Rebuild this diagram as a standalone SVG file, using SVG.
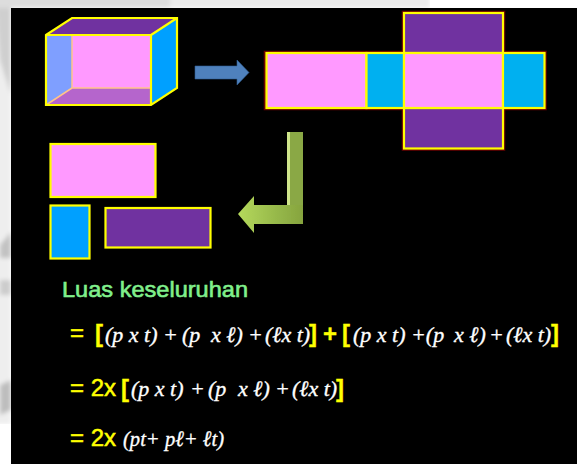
<svg xmlns="http://www.w3.org/2000/svg" width="577" height="464" viewBox="0 0 577 464">
<style>
.e{stroke:#ffff00;stroke-width:2.200;stroke-linejoin:miter}
.p{fill:#ff99ff}.b{fill:#00b0f0}.c{fill:#00a0ff}.v{fill:#7030a0}
.g{font-family:"Liberation Sans",Arial,sans-serif;fill:#ffff00;stroke:#ffff00;stroke-width:.5;font-size:24px}
.k{font-weight:bold;stroke-width:.3}
.m{font-family:"Liberation Serif","Times New Roman",serif;font-style:italic;fill:#fff;stroke:#fff;stroke-width:.35;font-size:22px}
</style>
<defs>
<linearGradient id="ga" gradientUnits="userSpaceOnUse" x1="238" y1="0" x2="303" y2="0"><stop offset="0" stop-color="#b5d95c"/><stop offset=".6" stop-color="#96b84a"/><stop offset="1" stop-color="#86a43e"/></linearGradient>
<filter id="s" x="-5%" y="-5%" width="110%" height="110%"><feGaussianBlur stdDeviation=".4"/></filter>
<filter id="bg" x="-20%" y="-5%" width="140%" height="110%"><feGaussianBlur stdDeviation="2"/></filter>
</defs>
<rect width="577" height="464" fill="#fff"/>
<g filter="url(#bg)">
<path d="M-5 -5H11V424H-5Z" fill="#eeeeee"/>
<path d="M-5 -5H11V95L0 60Z" fill="#cfcfcf"/>
<path d="M0 245L11 232V258H0Z" fill="#c2c2c2"/>
<path d="M0 280H11V295H0Z" fill="#cccccc"/>
<path d="M0 385L11 380V410L0 415Z" fill="#bdbdbd"/>
<path d="M-5 -5H170V8H-5Z" fill="#dddddd"/>
<path d="M170 -5H430V8H170Z" fill="#ececec"/>
</g>
<rect x="0" y="424" width="11" height="40" fill="#fff"/>
<rect x="430" y="0" width="147" height="8" fill="#fff"/>
<rect x="11" y="8" width="566" height="456" fill="#000"/>
<g id="box" filter="url(#s)">
<path d="M46 35H72V88L46 105Z" fill="#7f9fff"/>
<path d="M72 35H151V88H72Z" class="p"/>
<path d="M46 105L72 88H151V105Z" fill="#b565cc"/>
<path d="M46 35L72 18H177L151 35Z" class="v"/>
<path d="M151 35L177 18V88L151 105Z" class="c"/>
<path d="M72 35V88H151M72 88L46 105" fill="none" stroke="#ffc48a" stroke-width="1.500"/>
<path d="M46 35L72 18H177V88L151 105H46ZM46 35H151V105M151 35L177 18" fill="none" class="e"/>
</g>
<g id="net" filter="url(#s)">
<path d="M404 13H503V53H544.500V108H503V148.500H404V108H266V53H404Z" fill="none" stroke="#6a0000" stroke-width="4.500"/>
<rect x="404" y="13" width="99" height="40" class="v e"/>
<rect x="404" y="108" width="99" height="40.500" class="v e"/>
<rect x="266.500" y="53" width="100" height="55" class="p e"/>
<rect x="366.500" y="53" width="37.500" height="55" class="b e"/>
<rect x="404" y="53" width="99" height="55" class="p e"/>
<rect x="503" y="53" width="41.500" height="55" class="b e"/>
</g>
<g id="parts" filter="url(#s)">
<rect x="50.500" y="144" width="105" height="53" class="p e"/>
<rect x="50.500" y="205.500" width="39" height="53" class="c e"/>
<rect x="105.500" y="208" width="105" height="39.500" class="v e"/>
</g>
<g id="connectors" filter="url(#s)">
<path d="M195 66H237V60L249 72.500 237 85V79H195Z" fill="#4f81bd" stroke="#2f5f96" stroke-width=".6"/>
<path d="M303 132V224H254V233L238 214 254 196V205H287V132Z" fill="url(#ga)"/>
<path d="M287 132H303V205H287Z" fill="#8aa845"/>
<path d="M287 132H290V205H287Z" fill="#cfe58a"/>
</g>
<g id="formula">
<text x="62" y="297" font-family="Liberation Sans, Arial, sans-serif" font-size="22.500" fill="#80f08c" stroke="#80f08c" stroke-width=".6" textLength="186" lengthAdjust="spacingAndGlyphs">Luas keseluruhan</text>
<text x="70" y="341" class="g">=</text>
<text x="95" y="342" class="g k">[</text>
<text y="342" class="m" xml:space="preserve"><tspan x="105">(p x t)</tspan><tspan x="163">+</tspan><tspan x="182">(p</tspan><tspan x="211">x ℓ)</tspan><tspan x="248">+</tspan><tspan x="265">(ℓx t)</tspan></text>
<text x="309" y="342" class="g k">]</text>
<text x="323" y="342" class="g k">+</text>
<text x="342" y="342" class="g k">[</text>
<text y="342" class="m" xml:space="preserve"><tspan x="353">(p x t)</tspan><tspan x="411">+(p</tspan><tspan x="454">x ℓ)</tspan><tspan x="489">+</tspan><tspan x="506">(ℓx t)</tspan></text>
<text x="551" y="342" class="g k">]</text>
<text x="70" y="396" class="g">= 2x</text>
<text x="121" y="397" class="g k">[</text>
<text y="396" class="m" xml:space="preserve"><tspan x="131">(p x t)</tspan><tspan x="190">+</tspan><tspan x="208">(p</tspan><tspan x="238">x ℓ)</tspan><tspan x="275">+</tspan><tspan x="292">(ℓx t)</tspan></text>
<text x="336" y="397" class="g k">]</text>
<text x="70" y="446" class="g">= 2x</text>
<text x="123" y="446" class="m" textLength="101" lengthAdjust="spacingAndGlyphs">(pt+ pℓ+ ℓt)</text>
</g>
</svg>
